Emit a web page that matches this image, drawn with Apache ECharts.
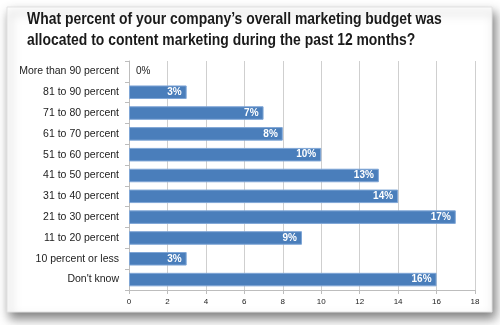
<!DOCTYPE html>
<html><head><meta charset="utf-8">
<script src="https://cdn.jsdelivr.net/npm/echarts@6/dist/echarts.min.js"></script>
<style>html,body{margin:0;padding:0;background:#fff;}#c{width:500px;height:325px;}</style>
</head><body><div id="c"></div>
<script>
const titleLines = ["What percent of your company\u2019s overall marketing budget was", "allocated to content marketing during the past 12 months?"];
const categories = ["More than 90 percent","81 to 90 percent","71 to 80 percent","61 to 70 percent","51 to 60 percent","41 to 50 percent","31 to 40 percent","21 to 30 percent","11 to 20 percent","10 percent or less","Don't know"];
const values = [0,3,7,8,10,13,14,17,9,3,16];
const xTicks = {min:0, max:18, interval:2};

const chart = echarts.init(document.getElementById('c'), null, {renderer:'canvas'});
const data = values.map(v => v === 0
  ? {value:v, itemStyle:{borderWidth:0}, label:{position:'right', color:'#222', fontWeight:'normal', distance:7}}
  : {value:v});
chart.setOption({
  animation:false,
  backgroundColor:'#fff',
  graphic:[
    {type:'rect', shape:{x:7,y:7,width:485,height:305}, z:-10,
      style:{fill:'#fff', stroke:'#e2e2e2', lineWidth:1, shadowBlur:10, shadowOffsetX:3, shadowOffsetY:6, shadowColor:'rgba(0,0,0,0.5)'}},
    {type:'text', x:27, y:9, scaleX:0.87, z:10,
      style:{text:titleLines.join('\n'), font:'bold 16px "Liberation Sans", Arial, sans-serif', lineHeight:21, fill:'#1a1a1a'}}
  ],
  grid:{left:129, right:25, top:61, bottom:35, containLabel:false},
  xAxis:{type:'value', min:xTicks.min, max:xTicks.max, interval:xTicks.interval,
    axisLine:{show:true, lineStyle:{color:'#bdbdbd'}},
    axisTick:{show:true, length:4, lineStyle:{color:'#bdbdbd'}},
    axisLabel:{color:'#222', fontSize:8, margin:8, fontFamily:'Liberation Sans'},
    splitLine:{show:true, lineStyle:{color:'#cfcfcf', width:1}}},
  yAxis:{type:'category', data:categories, inverse:true,
    axisLine:{show:true, lineStyle:{color:'#bdbdbd'}},
    axisTick:{show:true, length:4, lineStyle:{color:'#bdbdbd'}},
    axisLabel:{color:'#222', fontSize:10.5, margin:10, fontFamily:'Liberation Sans'}},
  series:[{type:'bar', data:data, barCategoryGap:'35%',
    itemStyle:{color:'#4a7ebb', borderColor:'#7fa6d6', borderWidth:1},
    label:{show:true, position:'insideRight', distance:5, color:'#fff', fontWeight:'bold', fontSize:10, fontFamily:'Liberation Sans', formatter:'{c}%'}}]
});
</script></body></html>
